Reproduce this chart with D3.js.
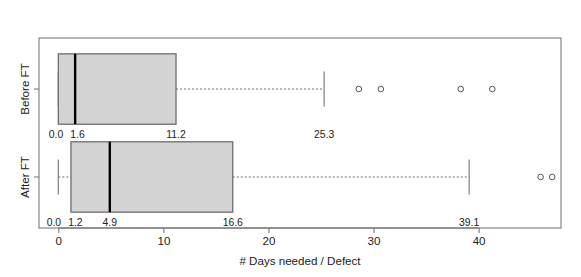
<!DOCTYPE html>
<html>
<head>
<meta charset="utf-8">
<script src="https://cdn.jsdelivr.net/npm/d3@7"></script>
<style>
  html, body { margin: 0; padding: 0; background: #fff; }
  svg { display: block; font-family: "Liberation Sans", Arial, Helvetica, sans-serif; }
</style>
</head>
<body>
<svg id="chart" width="581" height="277"></svg>
<script>
// groups, top to bottom
const groups = ['Before FT', 'After FT'];
// five-number summaries [low whisker, Q1, median, Q3, high whisker]
const stats = [
  [0.0, 0.0, 1.6, 11.2, 25.3],
  [0.0, 1.2, 4.9, 16.6, 39.1]
];
const outliers = [
  [28.6, 30.7, 38.3, 41.3],
  [45.9, 47.0]
];
// printed labels under each box
const labelValues = [
  [0.0, 1.6, 11.2, 25.3],
  [0.0, 1.2, 4.9, 16.6, 39.1]
];
const xTicks = [0, 10, 20, 30, 40];
const xTitle = '# Days needed / Defect';

const svg = d3.select('#chart');
const margin = { left: 39, right: 20, top: 38, bottom: 49 };
const W = 581, H = 277;
const plotR = W - margin.right, plotB = H - margin.bottom;

const rangeMax = 46.0;
const x = d3.scaleLinear().domain([-0.04 * rangeMax, 1.04 * rangeMax]).range([margin.left, plotR]);
// group positions 1..n with R-style padding
const y = d3.scaleLinear().domain([0.42, 2.58]).range([margin.top, plotB]);

const grey = '#6e6e6e';

groups.forEach((g, i) => {
  const s = stats[i];
  const cy = y(i + 1);
  const half = y(0.4) - y(0);
  const stapleHalf = y(0.2) - y(0);
  const grp = svg.append('g');

  // whiskers
  [[s[0], s[1]], [s[3], s[4]]].forEach(([a, b]) => {
    if (b > a) grp.append('line')
      .attr('x1', x(a)).attr('x2', x(b)).attr('y1', cy).attr('y2', cy)
      .attr('stroke', grey).attr('stroke-dasharray', '2,2').attr('stroke-width', 1);
  });
  // staples
  [s[0], s[4]].forEach(v => {
    grp.append('line')
      .attr('x1', x(v)).attr('x2', x(v)).attr('y1', cy - stapleHalf).attr('y2', cy + stapleHalf)
      .attr('stroke', '#888').attr('stroke-width', 1.3);
  });
  // box
  grp.append('rect')
    .attr('x', x(s[1])).attr('width', x(s[3]) - x(s[1]))
    .attr('y', cy - half).attr('height', 2 * half)
    .attr('fill', '#d3d3d3').attr('stroke', grey).attr('stroke-width', 1.3);
  // median
  grp.append('line')
    .attr('x1', x(s[2])).attr('x2', x(s[2])).attr('y1', cy - half).attr('y2', cy + half)
    .attr('stroke', '#000').attr('stroke-width', 2.4);
  // outliers
  grp.selectAll('circle').data(outliers[i]).join('circle')
    .attr('cx', d => x(d)).attr('cy', cy).attr('r', 2.8)
    .attr('fill', 'none').attr('stroke', '#444').attr('stroke-width', 0.9);

  // value labels, nudged apart when crowded
  const pos = labelValues[i].map(v => x(v));
  const minGap = 21.5;
  for (let k = 1; k < pos.length; k++) {
    if (pos[k] - pos[k - 1] < minGap) {
      const mid = (pos[k] + pos[k - 1]) / 2;
      pos[k - 1] = mid - minGap / 2;
      pos[k] = mid + minGap / 2;
    }
  }
  grp.selectAll('text.val').data(labelValues[i]).join('text')
    .attr('class', 'val')
    .attr('x', (d, k) => pos[k]).attr('y', cy + half + 13.5)
    .attr('text-anchor', 'middle').attr('font-size', 10.4).attr('fill', '#222')
    .text(d => d.toFixed(1));

  // y tick + label
  svg.append('line').attr('x1', margin.left - 5).attr('x2', margin.left)
    .attr('y1', cy).attr('y2', cy).attr('stroke', grey);
  svg.append('text')
    .attr('transform', `translate(29,${cy}) rotate(-90)`)
    .attr('text-anchor', 'middle').attr('font-size', 11.6).attr('fill', '#222')
    .text(g);
});

// frame
svg.append('rect')
  .attr('x', margin.left).attr('y', margin.top)
  .attr('width', plotR - margin.left).attr('height', plotB - margin.top)
  .attr('fill', 'none').attr('stroke', grey).attr('stroke-width', 1);

// x axis
const ax = svg.append('g').attr('transform', `translate(0,${plotB})`)
  .call(d3.axisBottom(x).tickValues(xTicks).tickSize(5).tickPadding(4).tickFormat(d3.format('d')));
ax.select('.domain').attr('stroke', grey)
  .attr('d', `M${x(xTicks[0])},0H${x(xTicks[xTicks.length - 1])}`);
ax.selectAll('line').attr('stroke', grey);
ax.selectAll('text').attr('font-size', 11.6).attr('fill', '#222')
  .attr('font-family', '"Liberation Sans", Arial, sans-serif');

svg.append('text')
  .attr('x', (margin.left + plotR) / 2).attr('y', 265)
  .attr('text-anchor', 'middle').attr('font-size', 11.6).attr('fill', '#222')
  .text(xTitle);
</script>
</body>
</html>
